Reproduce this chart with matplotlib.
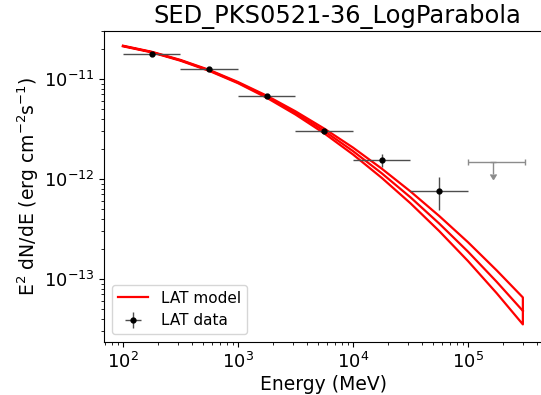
import matplotlib
matplotlib.use("Agg")
import matplotlib.pyplot as plt

# butterfly, E in MeV, E^2 dN/dE in erg cm-2 s-1
model_e = [100, 178, 316, 562, 1000, 1778, 3162, 5623, 10000, 17783,
           31623, 56234, 100000, 177828, 300000]
model_mid = [2.138e-11, 1.858e-11, 1.538e-11, 1.219e-11, 9.20e-12, 6.65e-12,
             4.58e-12, 3.02e-12, 1.90e-12, 1.140e-12, 6.55e-13, 3.58e-13,
             1.875e-13, 9.35e-14, 4.79e-14]
model_hi = [2.153e-11, 1.871e-11, 1.552e-11, 1.233e-11, 9.33e-12, 6.81e-12,
            4.75e-12, 3.19e-12, 2.06e-12, 1.268e-12, 7.50e-13, 4.26e-13,
            2.33e-13, 1.216e-13, 6.53e-14]
model_lo = [2.123e-11, 1.845e-11, 1.524e-11, 1.205e-11, 9.08e-12, 6.49e-12,
            4.41e-12, 2.86e-12, 1.758e-12, 1.026e-12, 5.71e-13, 3.01e-13,
            1.510e-13, 7.19e-14, 3.51e-14]

# flux points: bin centre, bin edges, value, y errors
pt_e = [178, 562, 1778, 5623, 17783, 56234]
pt_emin = [100, 316, 1000, 3162, 10000, 31623]
pt_emax = [316, 1000, 3162, 10000, 31623, 100000]
pt_flux = [1.78e-11, 1.26e-11, 6.8e-12, 3.0e-12, 1.55e-12, 7.6e-13]
pt_err_lo = [0.6e-12, 0.4e-12, 0.25e-12, 0.2e-12, 0.23e-12, 2.7e-13]
pt_err_hi = [0.6e-12, 0.4e-12, 0.25e-12, 0.2e-12, 0.23e-12, 2.9e-13]

# upper limit bin
ul_e = [165000]
ul_emin = [100000]
ul_emax = [316228]
ul_flux = [1.48e-12]
ul_len = [3.5e-13]

fig = plt.figure(figsize=(5.41, 3.95), dpi=100)
# right spine sits just past the image edge in the reference
ax = fig.add_axes([104/541, 1 - 342/395, 440/541, (342 - 31)/395])

ax.plot(model_e, model_mid, color="red", lw=1.6, label="LAT model")
ax.plot(model_e + model_e[::-1], model_hi + model_lo[::-1], color="red", lw=1.6)

xlo = [c - a for c, a in zip(pt_e, pt_emin)]
xhi = [b - c for c, b in zip(pt_e, pt_emax)]
ax.errorbar(pt_e, pt_flux, xerr=[xlo, xhi], yerr=[pt_err_lo, pt_err_hi],
            fmt="o", color="k", ms=3.5, ecolor="0.3", elinewidth=1.0,
            capsize=0, label="LAT data")

uxlo = [c - a for c, a in zip(ul_e, ul_emin)]
uxhi = [b - c for c, b in zip(ul_e, ul_emax)]
ax.errorbar(ul_e, ul_flux, xerr=[uxlo, uxhi], yerr=ul_len, uplims=True,
            fmt="none", color="0.55", ecolor="0.55", elinewidth=1.0, capsize=2.5)

ax.set_xscale("log")
ax.set_yscale("log")
ax.set_xlim(68.4, 10**(5 + 76/115))
ax.set_ylim(2.34e-14, 3.02e-11)
ax.set_xlabel("Energy (MeV)", fontsize=13.5, labelpad=2)
ax.set_ylabel(r"E$^2$ dN/dE (erg cm$^{-2}$s$^{-1}$)", fontsize=13.5, labelpad=2)
ax.set_title("SED_PKS0521-36_LogParabola", fontsize=17.4, x=(337 - 104)/440)
ax.tick_params(labelsize=13)
ax.legend(loc="lower left", fontsize=11)

fig.savefig("out.png", dpi=100)
